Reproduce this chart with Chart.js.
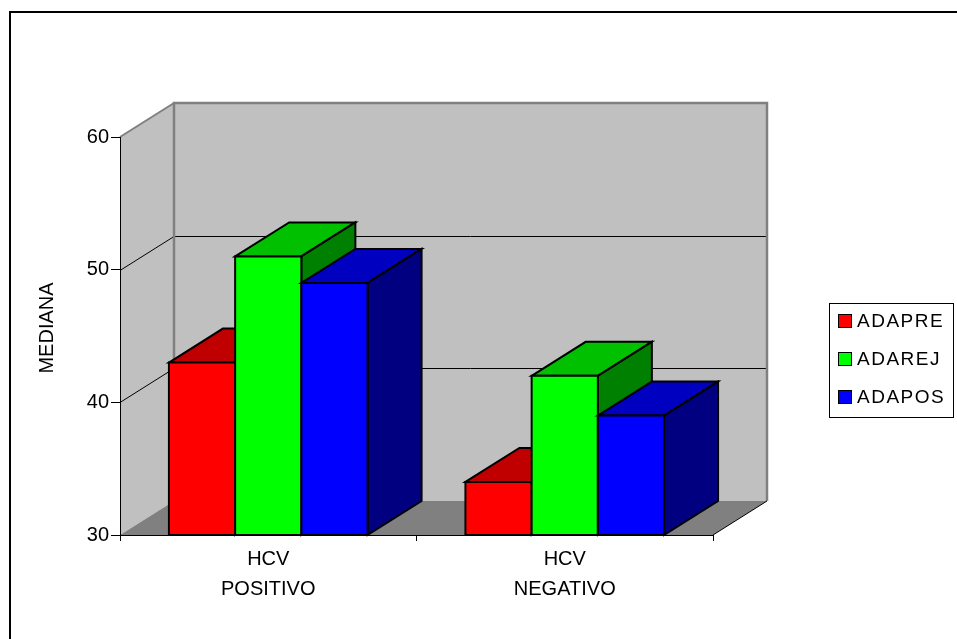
<!DOCTYPE html>
<html>
<head>
<meta charset="utf-8">
<script src="https://cdn.jsdelivr.net/npm/chart.js@4"></script>
<style>
  html, body { margin: 0; padding: 0; background: #fff; overflow: hidden; }
  canvas { display: block; }
</style>
</head>
<body>
<canvas id="chart" width="957" height="639"></canvas>
<script>
// Median values per HCV group
const categories = [['HCV', 'POSITIVO'], ['HCV', 'NEGATIVO']];
const seriesNames = ['ADAPRE', 'ADAREJ', 'ADAPOS'];
const adapre = [43, 34];
const adarej = [51, 42];
const adapos = [49, 39];
const yTicks = [30, 40, 50, 60];
const yAxisTitle = 'MEDIANA';

const FONT = "'Liberation Sans', Arial, sans-serif";
const DX = 54, DY = 34; // oblique depth of the 3D box

const faceColors = [
  { front: '#ff0000', top: '#c00000', side: '#800000' },
  { front: '#00ff00', top: '#00c000', side: '#008000' },
  { front: '#0000ff', top: '#0000c0', side: '#000080' }
];

function poly(ctx, pts, fill, stroke, lw) {
  ctx.beginPath();
  ctx.moveTo(pts[0][0], pts[0][1]);
  for (let i = 1; i < pts.length; i++) ctx.lineTo(pts[i][0], pts[i][1]);
  ctx.closePath();
  if (fill) { ctx.fillStyle = fill; ctx.fill(); }
  if (stroke) { ctx.strokeStyle = stroke; ctx.lineWidth = lw; ctx.stroke(); }
}

// Background, frame, walls and floor of the 3D box
const boxPlugin = {
  id: 'box3d',
  beforeDraw(chart) {
    const ctx = chart.ctx;
    const a = chart.chartArea;
    const y = chart.scales.y;
    ctx.save();
    ctx.fillStyle = '#fff';
    ctx.fillRect(0, 0, chart.width, chart.height);

    // outer frame
    ctx.strokeStyle = '#000';
    ctx.lineWidth = 2;
    ctx.strokeRect(10, 12, chart.width + 20, chart.height + 20);

    const L = a.left, R = a.right, T = a.top, B = a.bottom;
    // back wall
    ctx.fillStyle = '#c0c0c0';
    ctx.fillRect(L + DX, T - DY, R - L, B - T);
    // side wall
    poly(ctx, [[L, T], [L + DX, T - DY], [L + DX, B - DY], [L, B]], '#c0c0c0');
    // floor
    poly(ctx, [[L, B], [L + DX, B - DY], [R + DX, B - DY], [R, B]], '#808080');

    // gridlines on side and back walls
    ctx.strokeStyle = '#000';
    ctx.lineWidth = 1;
    yTicks.forEach(v => {
      if (v === yTicks[0] || v === yTicks[yTicks.length - 1]) return;
      const py = Math.round(y.getPixelForValue(v)) + 0.5;
      ctx.beginPath();
      ctx.moveTo(L, py);
      ctx.lineTo(L + DX, py - DY);
      ctx.lineTo(R + DX, py - DY);
      ctx.stroke();
    });

    // wall edges
    ctx.strokeStyle = '#808080';
    ctx.lineWidth = 2.5;
    ctx.beginPath();
    ctx.moveTo(L + DX, B - DY);
    ctx.lineTo(L + DX, T - DY);
    ctx.lineTo(R + DX, T - DY);
    ctx.lineTo(R + DX, B - DY);
    ctx.stroke();
    ctx.lineWidth = 2;
    ctx.beginPath();
    ctx.moveTo(L, T);
    ctx.lineTo(L + DX, T - DY);
    ctx.stroke();

    // floor right edge
    ctx.strokeStyle = '#000';
    ctx.lineWidth = 1;
    ctx.beginPath();
    ctx.moveTo(R, B);
    ctx.lineTo(R + DX, B - DY);
    ctx.stroke();
    ctx.restore();
  },
  afterDraw(chart) {
    const ctx = chart.ctx;
    const a = chart.chartArea;
    ctx.save();
    // rotated axis title
    ctx.fillStyle = '#000';
    ctx.font = '20px ' + FONT;
    ctx.textAlign = 'center';
    ctx.textBaseline = 'middle';
    ctx.translate(47, (a.top + a.bottom) / 2 - 8);
    ctx.rotate(-Math.PI / 2);
    ctx.fillText(yAxisTitle, 0, 0);
    ctx.restore();

    // legend box
    ctx.save();
    ctx.strokeStyle = '#000';
    ctx.lineWidth = 1;
    ctx.strokeRect(829.5, 303.5, 124, 114);
    ctx.font = '19px ' + FONT;
    ctx.textBaseline = 'middle';
    ctx.textAlign = 'left';
    if ('letterSpacing' in ctx) ctx.letterSpacing = '1.5px';
    chart.data.datasets.forEach((ds, i) => {
      const cy = 321 + i * 38;
      ctx.fillStyle = ds.backgroundColor;
      ctx.fillRect(838.5, cy - 6.5, 13, 13);
      ctx.strokeRect(838.5, cy - 6.5, 13, 13);
      ctx.fillStyle = '#000';
      ctx.fillText(ds.label, 857, cy + 1);
    });
    ctx.restore();
  }
};

// Draws each bar as a box: top, right side, then front face
const bars3dPlugin = {
  id: 'bars3d',
  beforeDatasetsDraw(chart) {
    const ctx = chart.ctx;
    const y = chart.scales.y;
    const floorY = y.getPixelForValue(y.min);
    ctx.save();
    ctx.lineJoin = 'miter';
    const n = chart.data.labels.length;
    for (let c = 0; c < n; c++) {
      chart.data.datasets.forEach((ds, d) => {
        const el = chart.getDatasetMeta(d).data[c];
        const col = faceColors[d];
        const L = el.x - el.width / 2, R = el.x + el.width / 2;
        const T = el.y, B = Math.min(el.base, floorY);
        poly(ctx, [[L, T], [L + DX, T - DY], [R + DX, T - DY], [R, T]], col.top, '#000', 2);
        poly(ctx, [[R, T], [R + DX, T - DY], [R + DX, B - DY], [R, B]], col.side, '#000', 2);
        poly(ctx, [[L, T], [R, T], [R, B], [L, B]], col.front, '#000', 2);
      });
    }
    ctx.restore();
    return false;
  }
};

const seriesValues = [adapre, adarej, adapos];

new Chart(document.getElementById('chart'), {
  type: 'bar',
  data: {
    labels: categories,
    datasets: seriesNames.map((name, i) => ({
      label: name,
      data: seriesValues[i],
      backgroundColor: faceColors[i].front,
      borderColor: '#000',
      borderWidth: 0,
      barPercentage: 1,
      categoryPercentage: 0.67
    }))
  },
  options: {
    responsive: false,
    animation: false,
    devicePixelRatio: 1,
    layout: { padding: { left: 0, top: 137, right: 244, bottom: 0 } },
    plugins: {
      legend: { display: false },
      tooltip: { enabled: false },
      title: { display: false }
    },
    scales: {
      x: {
        grid: { drawOnChartArea: false, tickLength: 6, color: '#000', offset: true },
        border: { color: '#000', width: 1 },
        ticks: {
          color: '#000',
          font: { family: FONT, size: 20, lineHeight: '30px' },
          padding: 3,
          maxRotation: 0
        },
        afterFit(s) { s.height = 104; }
      },
      y: {
        min: 30,
        max: 60,
        afterBuildTicks(s) { s.ticks = yTicks.map(v => ({ value: v })); },
        grid: { drawOnChartArea: false, tickLength: 9, color: '#000' },
        border: { color: '#000', width: 1 },
        ticks: {
          color: '#000',
          font: { family: FONT, size: 20 },
          padding: 2
        },
        afterFit(s) { s.width = 120; }
      }
    }
  },
  plugins: [boxPlugin, bars3dPlugin]
});
</script>
</body>
</html>
